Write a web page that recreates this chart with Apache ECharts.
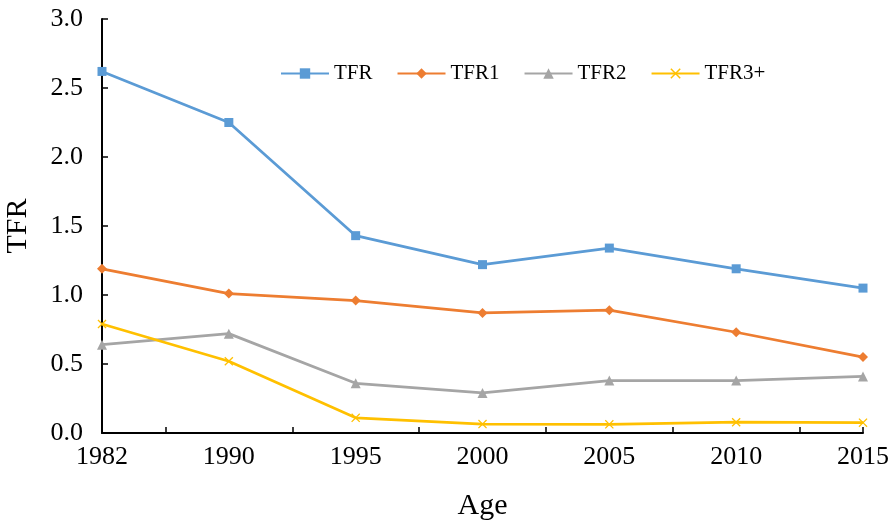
<!DOCTYPE html>
<html>
<head>
<meta charset="utf-8">
<script src="https://cdn.jsdelivr.net/npm/echarts@6/dist/echarts.min.js"></script>
<style>html,body{margin:0;padding:0;background:#fff}#c{width:896px;height:521px}</style>
</head>
<body>
<div id="c"></div>
<script>
var years = ['1982', '1990', '1995', '2000', '2005', '2010', '2015'];
var tfr  = [2.62, 2.25, 1.43, 1.22, 1.34, 1.19, 1.05];
var tfr1 = [1.19, 1.01, 0.96, 0.87, 0.89, 0.73, 0.55];
var tfr2 = [0.64, 0.72, 0.36, 0.29, 0.38, 0.38, 0.41];
var tfr3 = [0.79, 0.52, 0.11, 0.065, 0.063, 0.078, 0.075];
var yTicks = [0, 0.5, 1.0, 1.5, 2.0, 2.5, 3.0];
var xTickPos = [0.5, 1.5, 2.5, 3.5, 4.5, 5.5, 6];

var FONT = "'Liberation Serif', 'Times New Roman', serif";
var crossPath = 'path://M0,1L1,0L5,4L9,0L10,1L6,5L10,9L9,10L5,6L1,10L0,9L4,5Z';

function mk(name, data, color, symbol, size) {
  return {
    name: name, type: 'line', data: data, xAxisIndex: 0,
    symbol: symbol, symbolSize: size, showSymbol: true,
    lineStyle: {color: color, width: 2.75},
    itemStyle: {color: color},
    emphasis: {disabled: true},
    animation: false
  };
}

var chart = echarts.init(document.getElementById('c'), null, {renderer: 'canvas'});
chart.setOption({
  backgroundColor: '#ffffff',
  animation: false,
  grid: {left: 102, right: 33, top: 19, bottom: 88, containLabel: false, outerBoundsMode: 'none'},
  legend: {
    top: 58, left: 275,
    itemWidth: 48, itemHeight: 13, itemGap: 24,
    textStyle: {fontFamily: FONT, fontSize: 21, color: '#000'},
    data: ['TFR', 'TFR1', 'TFR2', 'TFR3+']
  },
  xAxis: [{
    type: 'category', data: years, boundaryGap: false,
    name: 'Age', nameLocation: 'middle', nameGap: 58,
    nameTextStyle: {fontFamily: FONT, fontSize: 30, color: '#000'},
    axisLine: {show: true, lineStyle: {color: '#000', width: 2}},
    axisTick: {show: false},
    axisLabel: {fontFamily: FONT, fontSize: 26, color: '#000', margin: 11, interval: 0},
    splitLine: {show: false}
  }, {
    type: 'value', min: 0, max: 6, position: 'bottom', offset: 0,
    axisLine: {show: false},
    axisLabel: {show: false},
    axisTick: {show: true, inside: true, length: 6, customValues: xTickPos,
               lineStyle: {color: '#000', width: 1.5}},
    splitLine: {show: false}
  }],
  yAxis: {
    type: 'value', min: 0, max: 3, interval: 0.5,
    name: 'TFR', nameLocation: 'middle', nameGap: 69,
    nameTextStyle: {fontFamily: FONT, fontSize: 30, color: '#000'},
    axisLine: {show: true, lineStyle: {color: '#000', width: 2}},
    axisTick: {show: true, inside: true, length: 6, lineStyle: {color: '#000', width: 1.5}},
    axisLabel: {fontFamily: FONT, fontSize: 26, color: '#000', margin: 19,
                formatter: function (v) { return v.toFixed(1); }},
    splitLine: {show: false}
  },
  series: [
    mk('TFR', tfr, '#5B9BD5', 'rect', 9),
    mk('TFR1', tfr1, '#ED7D31', 'diamond', 10),
    mk('TFR2', tfr2, '#A5A5A5', 'triangle', 10),
    mk('TFR3+', tfr3, '#FFC000', crossPath, 9)
  ]
});
</script>
</body>
</html>
